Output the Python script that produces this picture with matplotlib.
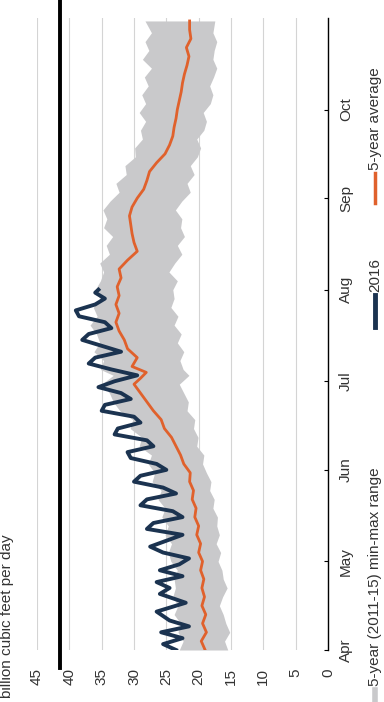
import matplotlib
matplotlib.use("Agg")
import matplotlib.pyplot as plt
from matplotlib.lines import Line2D

plt.rcParams['font.family'] = ['Liberation Sans', 'DejaVu Sans']

# days counted from April 1
month_days = [0, 30, 61, 91, 122, 153, 183]
month_labels = ['Apr', 'May', 'Jun', 'Jul', 'Aug', 'Sep', 'Oct']
value_ticks = [0, 5, 10, 15, 20, 25, 30, 35, 40, 45]

# 5-year (2011-15) min-max range
band_days = [0, 3, 6, 9, 12, 15, 18, 21, 24, 27, 30, 33, 36, 39, 42, 45, 48, 51, 54, 57,
             60, 63, 66, 69, 72, 75, 78, 81, 84, 87, 90, 93, 95, 98, 101, 104, 107, 110,
             113, 116, 119, 122, 125, 128, 131, 134, 137, 140, 143, 146, 149, 152, 155,
             158, 161, 164, 167, 170, 173, 176, 179, 182, 185, 188, 191, 194, 197, 200,
             203, 206, 209, 213]
band_min = [15.5, 16.0, 15.2, 15.8, 16.2, 16.8, 16.3, 15.6, 16.2, 16.4, 17.0, 16.6, 17.3,
            16.8, 17.2, 17.1, 17.8, 17.6, 18.3, 18.1, 18.8, 19.4, 19.2, 20.3, 20.1, 20.8,
            20.6, 21.8, 21.6, 22.3, 23.0, 21.5, 22.4, 22.9, 22.3, 23.3, 22.7, 23.8, 23.2,
            24.3, 23.8, 24.0, 23.3, 24.6, 23.7, 22.6, 23.3, 22.2, 22.8, 22.6, 23.6, 22.6,
            21.3, 21.8, 20.7, 21.3, 20.2, 19.7, 20.3, 19.2, 18.8, 19.3, 18.2, 17.8, 18.3,
            17.7, 17.2, 17.8, 17.6, 17.2, 17.8, 17.5]
band_max = [23.0, 22.4, 23.2, 22.8, 23.8, 23.2, 24.0, 23.6, 23.8, 23.3, 24.3, 24.7, 24.2,
            25.2, 24.7, 25.7, 25.2, 26.3, 25.8, 27.2, 26.8, 27.8, 27.3, 29.2, 28.8, 30.6,
            30.2, 32.2, 33.2, 33.8, 35.0, 33.2, 35.2, 34.7, 36.2, 35.3, 35.8, 36.8, 35.7,
            36.3, 35.3, 36.0, 35.2, 34.7, 35.3, 33.8, 34.3, 33.3, 34.7, 34.2, 34.8, 33.7,
            32.3, 32.8, 31.2, 31.4, 29.8, 29.9, 28.7, 29.0, 28.2, 29.2, 28.2, 28.8, 27.8,
            28.4, 27.3, 28.7, 27.7, 28.3, 27.3, 28.3]

# 5-year average
avg_days = [0, 3, 6, 9, 12, 15, 18, 21, 24, 27, 30, 33, 36, 39, 42, 45, 48, 51, 54, 57,
            60, 63, 66, 69, 72, 75, 78, 81, 84, 87, 90, 92, 94, 96, 99, 102, 105, 108,
            111, 114, 117, 120, 123, 126, 129, 132, 135, 138, 141, 144, 147, 150, 153,
            156, 159, 162, 165, 168, 171, 174, 177, 180, 183, 186, 189, 192, 195, 198,
            201, 204, 207, 210, 213]
avg_5yr = [19.0, 19.6, 18.8, 19.4, 18.9, 19.5, 19.1, 19.5, 19.2, 19.7, 19.4, 20.0, 19.7,
           20.3, 20.0, 20.6, 20.4, 21.0, 20.8, 21.4, 21.3, 22.3, 22.8, 23.5, 24.2, 25.3,
           25.8, 27.0, 28.0, 29.0, 30.0, 29.0, 28.1, 30.3, 29.5, 31.0, 31.5, 32.3, 32.8,
           32.3, 32.8, 32.3, 32.6, 32.0, 32.3, 31.0, 29.5, 30.0, 30.3, 30.5, 30.7, 30.3,
           29.5, 28.5, 28.0, 27.6, 26.5, 25.2, 24.5, 24.0, 23.8, 23.5, 23.3, 23.0, 22.7,
           22.5, 22.2, 21.8, 21.5, 21.9, 21.2, 21.4, 21.4]

# 2016 daily values
days_2016 = [0, 2, 4, 6, 8, 10, 13, 16, 19, 21, 23, 25, 27, 29, 31, 33, 35, 37, 39, 41,
             43, 45, 47, 49, 51, 53, 55, 57, 59, 61, 63, 65, 67, 69, 71, 73, 75, 77, 79,
             81, 83, 85, 87, 89, 91, 93, 95, 97, 99, 101, 103, 105, 107, 109, 111, 113,
             115, 117, 119, 121, 122]
vals_2016 = [23.5, 25.5, 22.5, 25.8, 21.5, 24.5, 26.5, 22.0, 26.0, 24.5, 26.5, 22.5, 26.0,
             23.0, 21.5, 25.5, 27.5, 25.0, 22.5, 28.0, 27.0, 22.5, 24.0, 29.0, 28.0, 23.5,
             25.5, 30.0, 29.0, 25.0, 26.5, 30.5, 31.0, 27.0, 28.0, 33.0, 32.5, 29.0, 30.0,
             35.0, 34.5, 30.5, 32.0, 35.5, 33.0, 29.5, 33.5, 37.0, 36.0, 32.0, 35.0, 38.0,
             37.0, 33.5, 34.5, 38.5, 39.0, 36.0, 34.5, 36.0, 35.5]

W, H = 384, 702
fig = plt.figure(figsize=(W / 100, H / 100), dpi=100)

# chart is laid out turned a quarter turn: values run right-to-left, dates bottom-to-top
ax = fig.add_axes([37 / W, (H - 650) / H, (328 - 37) / W, (650 - 18) / H])
ax.set_xlim(45, 0)
ax.set_ylim(0, 214)

ax.fill_betweenx(band_days, band_min, band_max, color='#c9c9cb', lw=0)
ax.plot(avg_5yr, avg_days, color='#e0612c', lw=2.0)
ax.plot(vals_2016, days_2016, color='#1b3350', lw=2.8, solid_joinstyle='round')

for s in ['top', 'left', 'bottom']:
    ax.spines[s].set_visible(False)
ax.spines['right'].set_color('black')
ax.spines['right'].set_linewidth(1.0)

ax.set_xticks(value_ticks)
ax.set_xticklabels([str(v) for v in value_ticks], rotation=90, fontsize=11, color='#333333')
ax.tick_params(axis='x', length=0, pad=13)
ax.xaxis.grid(True, color='#d4d4d4', lw=0.8)
ax.set_axisbelow(True)

ax.yaxis.tick_right()
ax.set_yticks(month_days)
ax.set_yticklabels(month_labels, rotation=90, va='center', fontsize=11, color='#333333')
ax.tick_params(axis='y', direction='in', length=3, width=0.8, pad=8)

# heavy rule near the top of the chart
fig.add_artist(Line2D([60 / W, 60 / W], [(H - 668) / H, 1.0], color='black', lw=2.8))

# unit label
fig.text(7 / W, (H - 698) / H, 'billion cubic feet per day', rotation=90,
         ha='center', va='bottom', fontsize=11, color='#333333')

# legend
lx = 375 / W
fig.add_artist(Line2D([lx, lx], [(H - 702) / H, (H - 690) / H], color='#c9c9cb', lw=4))
fig.text(lx, (H - 686) / H, '5-year (2011-15) min-max range', rotation=90,
         ha='center', va='bottom', fontsize=11, color='#333333')
fig.add_artist(Line2D([lx, lx], [(H - 327) / H, (H - 295) / H], color='#1b3350', lw=3.5))
fig.text(lx, (H - 292) / H, '2016', rotation=90, ha='center', va='bottom',
         fontsize=11, color='#333333')
fig.add_artist(Line2D([lx, lx], [(H - 203) / H, (H - 173) / H], color='#e0612c', lw=2.5))
fig.text(lx, (H - 170) / H, '5-year average', rotation=90, ha='center', va='bottom',
         fontsize=11, color='#333333')

fig.savefig('out.png', dpi=100)
